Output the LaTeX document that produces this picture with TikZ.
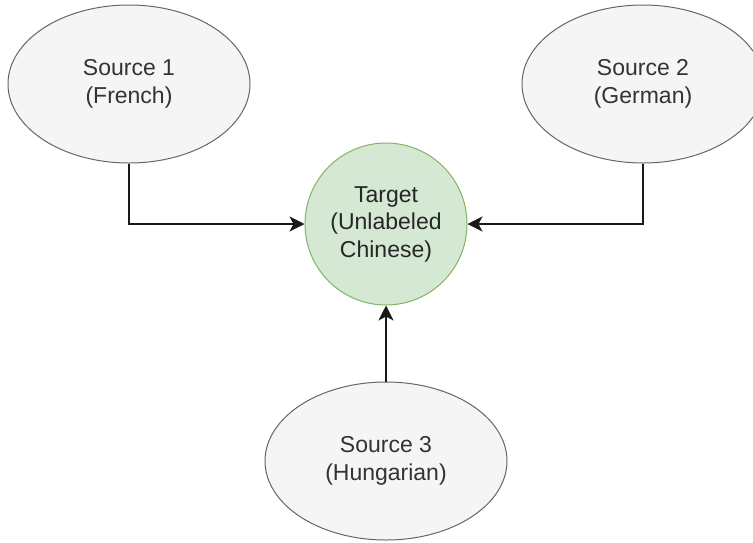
\documentclass[tikz,border=0pt]{standalone}
\usepackage{fontspec}
\setmainfont{Liberation Sans}
\usetikzlibrary{shapes.geometric,arrows.meta}
\definecolor{srcfill}{HTML}{F5F5F5}
\definecolor{srcline}{HTML}{666666}
\definecolor{srctext}{HTML}{333333}
\definecolor{tgtfill}{HTML}{D5E8D4}
\definecolor{tgtline}{HTML}{82B366}
\tikzset{
  source/.style={ellipse, draw=srcline, fill=srcfill, line width=1pt,
    minimum width=242pt, minimum height=158pt, inner sep=0pt,
    align=center, text=srctext,
    font=\fontsize{23}{27.5}\selectfont},
  target/.style={circle, draw=tgtline, fill=tgtfill, line width=1pt,
    minimum size=162pt, inner sep=0pt, align=center, text=black!85,
    font=\fontsize{23}{27.5}\selectfont},
  link/.style={line width=1.3pt, black!90,
    -{Stealth[length=15pt,width=15pt,inset=4pt]}}
}
\begin{document}
\begin{tikzpicture}[x=1pt,y=-1pt]
  \useasboundingbox (0,0) rectangle (753,542);
  \clip (0,0) rectangle (753,542);
  \node[source] (s1) at (129,84) {Source 1\\(French)};
  \node[source] (s2) at (643,84) {Source 2\\(German)};
  \node[target] (t) at (386,224) {Target\\(Unlabeled\\Chinese)};
  \node[source] (s3) at (386,461) {Source 3\\(Hungarian)};
  \draw[link] (s1.south) |- (t.west);
  \draw[link] (s2.south) |- (t.east);
  \draw[link] (s3.north) -- (t.south);
\end{tikzpicture}
\end{document}
